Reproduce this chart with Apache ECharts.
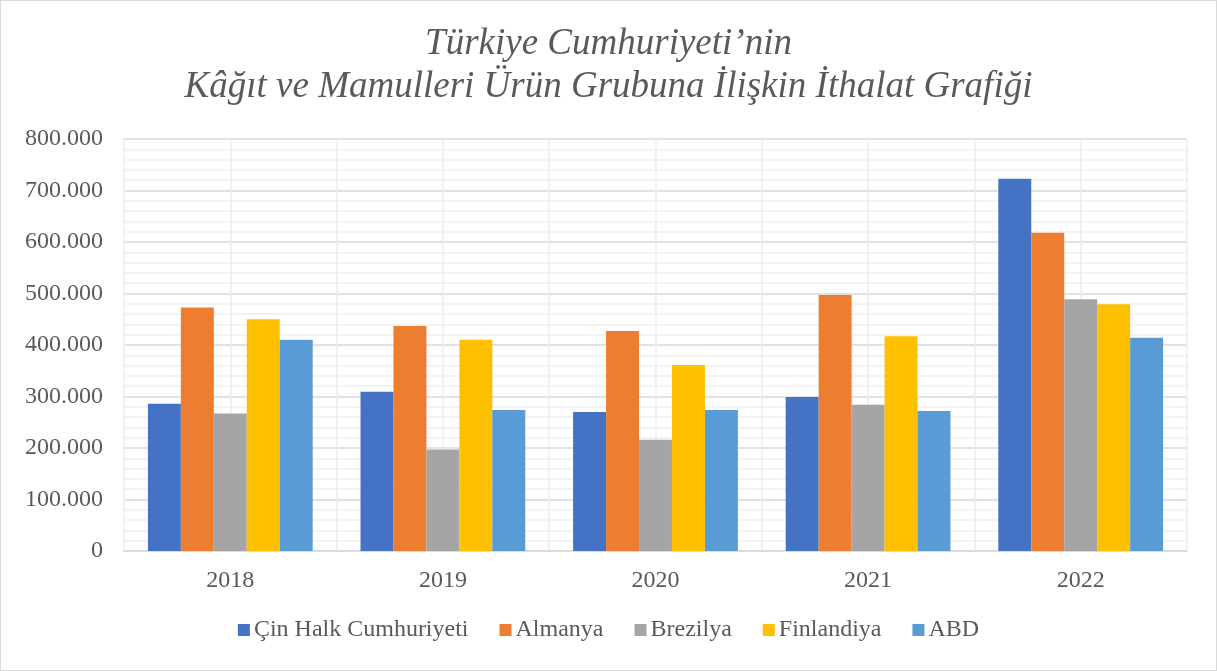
<!DOCTYPE html>
<html>
<head>
<meta charset="utf-8">
<script src="https://cdn.jsdelivr.net/npm/echarts@6/dist/echarts.min.js"></script>
<style>
  html, body { margin: 0; padding: 0; background: #fff; }
  #chart { width: 1217px; height: 671px; box-sizing: border-box; border: 1px solid #d9d9d9; }
</style>
</head>
<body>
<div id="chart"></div>
<script>
const years = ["2018", "2019", "2020", "2021", "2022"];
const seriesNames = ["Çin Halk Cumhuriyeti", "Almanya", "Brezilya", "Finlandiya", "ABD"];
const china = [286000, 309000, 270000, 299000, 723000];
const germany = [473000, 437000, 427000, 497000, 618000];
const brazil = [267000, 197000, 216000, 284000, 489000];
const finland = [450000, 410000, 361000, 417000, 479000];
const usa = [410000, 274000, 274000, 272000, 414000];
const colors = ["#4472C4", "#ED7D31", "#A5A5A5", "#FFC000", "#5B9BD5"];
const halfSlots = ["a", "b", "c", "d", "e", "f", "g", "h", "i", "j"];

const font = "'Liberation Serif', 'Times New Roman', serif";
const values = [china, germany, brazil, finland, usa];

function formatThousands(value) {
  return String(value).replace(/\B(?=(\d{3})+(?!\d))/g, ".");
}

const chart = echarts.init(document.getElementById("chart"));
chart.setOption({
  animation: false,
  color: colors,
  textStyle: { fontFamily: font },
  title: {
    text: "Türkiye Cumhuriyeti’nin\nKâğıt ve Mamulleri Ürün Grubuna İlişkin İthalat Grafiği",
    left: "center",
    top: 17,
    textStyle: {
      fontFamily: font,
      fontStyle: "italic",
      fontWeight: "normal",
      fontSize: 37,
      lineHeight: 43,
      color: "#595959"
    }
  },
  legend: {
    bottom: 23,
    left: "center",
    icon: "rect",
    itemWidth: 12,
    itemHeight: 12,
    itemGap: 31,
    textStyle: { fontFamily: font, fontSize: 24, color: "#595959", padding: [0, 0, 0, -1] },
    data: seriesNames
  },
  grid: { left: 123, right: 29, top: 138, bottom: 119 },
  xAxis: [
    {
      type: "category",
      data: years,
      axisLine: { lineStyle: { color: "#d9d9d9", width: 1.5 } },
      axisTick: { show: false },
      axisLabel: { fontFamily: font, fontSize: 24, color: "#595959", margin: 18 },
      splitLine: { show: false }
    },
    {
      type: "category",
      data: halfSlots,
      position: "bottom",
      axisLine: { show: false },
      axisTick: { show: false },
      axisLabel: { show: false },
      splitLine: { show: true, lineStyle: { color: "#ececec", width: 1.5 } }
    }
  ],
  yAxis: {
    type: "value",
    min: 0,
    max: 800000,
    interval: 100000,
    axisLine: { show: false },
    axisTick: { show: false },
    axisLabel: {
      fontFamily: font,
      fontSize: 24,
      color: "#595959",
      margin: 21,
      formatter: formatThousands
    },
    splitLine: { lineStyle: { color: "#d9d9d9", width: 1.5 } },
    minorTick: { show: false, splitNumber: 5 },
    minorSplitLine: { show: true, lineStyle: { color: "#f0f0f0", width: 1.5 } }
  },
  series: seriesNames.map((name, i) => ({
    name,
    type: "bar",
    xAxisIndex: 0,
    data: values[i],
    barGap: "0%",
    barCategoryGap: "22.5%",
    itemStyle: { color: colors[i] }
  }))
});
</script>
</body>
</html>
